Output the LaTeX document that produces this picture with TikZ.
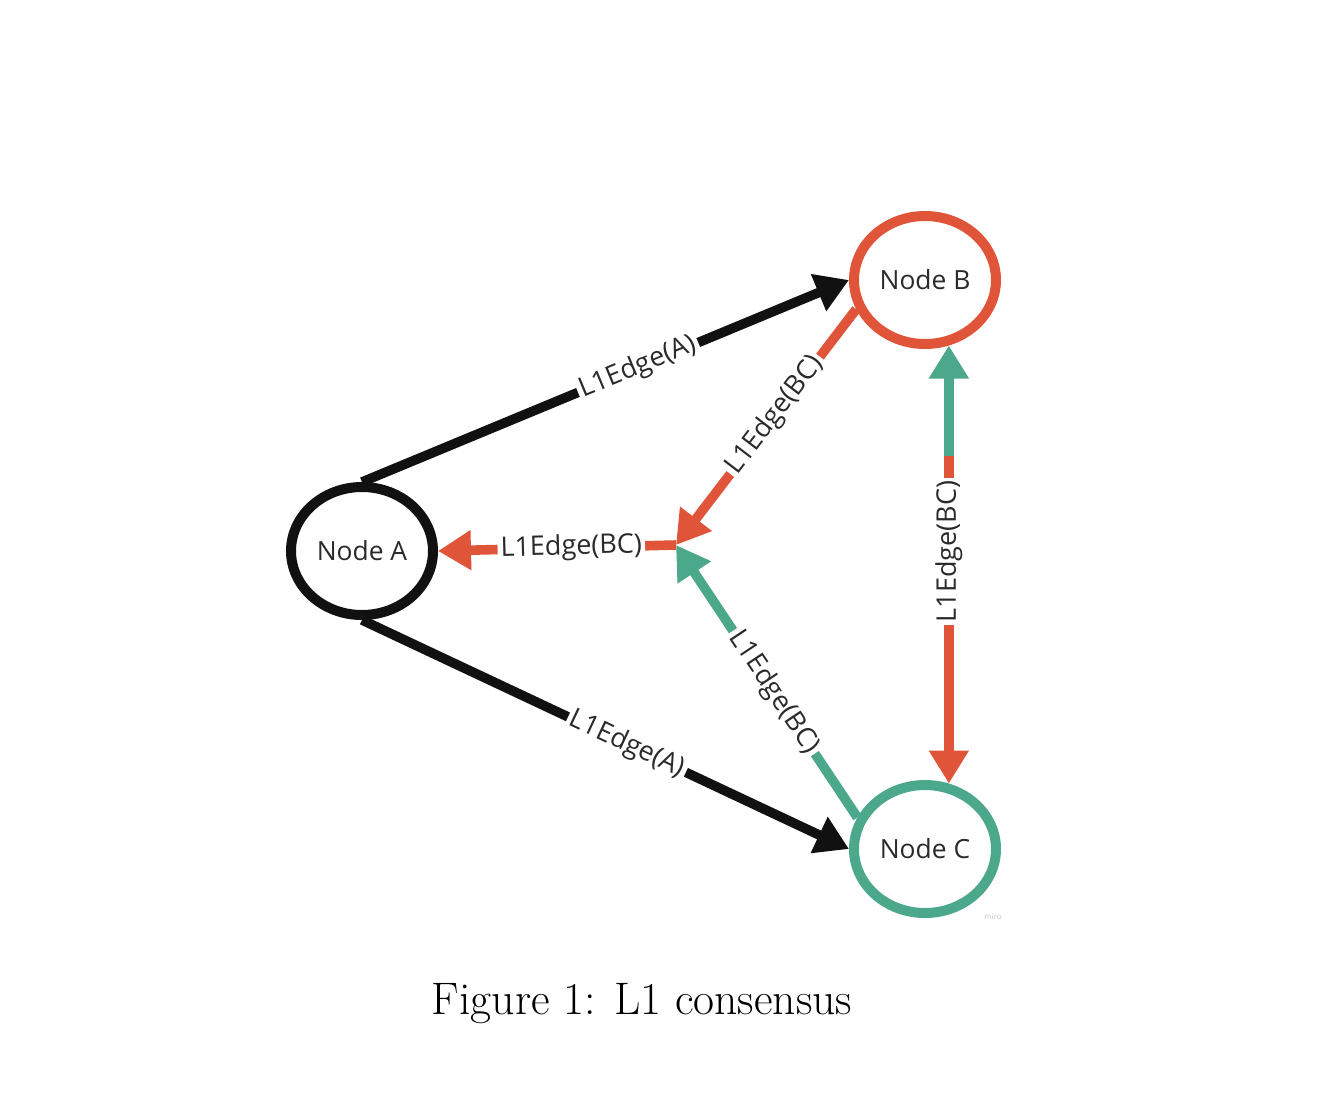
\documentclass[tikz,border=0pt]{standalone}
\usepackage{fontspec}
\newfontfamily\osans{Open Sans}
\usetikzlibrary{arrows.meta,shapes.geometric,calc}
\definecolor{edgered}{HTML}{E0553A}
\definecolor{edgegreen}{HTML}{4BA88A}
\definecolor{inkblack}{HTML}{111111}
\definecolor{labelgray}{HTML}{2A2A2A}
\begin{document}
\begin{tikzpicture}[x=0.5pt,y=-0.5pt,
  peer/.style={ellipse, draw, line width=5pt, minimum width=71pt, minimum height=64pt, inner sep=0pt,
    font=\osans\fontsize{13.2}{15}\selectfont, text=labelgray},
  conn/.style={line width=4.8pt, -{Triangle[length=16.5pt,width=19pt]}},
  elabel/.style={font=\osans\fontsize{13.5}{16}\selectfont, text=labelgray, fill=white, inner sep=1.5pt, sloped}
]
\useasboundingbox (0,0) rectangle (1344,1104);
\node[peer, draw=inkblack] (A) at (362,551) {Node A};
\node[peer, draw=edgered] (B) at (925,280) {Node B};
\node[peer, draw=edgegreen] (C) at (925,849) {Node C};
\coordinate (hub) at (676,545);

\draw[conn, inkblack] (A.north) -- (B.west) node[elabel, pos=0.567] {L1Edge(A)};
\draw[conn, inkblack] (A.south) -- (C.west) node[elabel, pos=0.544] {L1Edge(A)};
\draw[conn, edgered] (B.203) -- (hub) node[elabel, pos=0.45] {L1Edge(BC)};
\draw[conn, edgegreen] (C.155) -- (hub) node[elabel, pos=0.46] {L1Edge(BC)};
\draw[conn, edgered] (hub) -- (A.east) node[elabel, pos=0.44] {L1Edge(BC)};
\draw[conn, edgered, shorten <=10pt] (B.-70) -- (C.70) node[elabel, sloped=false, rotate=90, pos=0.47] {L1Edge(BC)};
\path (B.-70) -- (C.70) coordinate[pos=0.253] (gs);
\draw[conn, edgegreen] (gs) -- (B.-70);

\node[font=\osans\fontsize{4}{5}\selectfont, text=gray!45] (wm) at (993,917) {miro};
\node[font=\fontsize{22.8}{27}\selectfont, text=black] (cap) at (642,1004) {Figure 1: L1 consensus};
\end{tikzpicture}
\end{document}
